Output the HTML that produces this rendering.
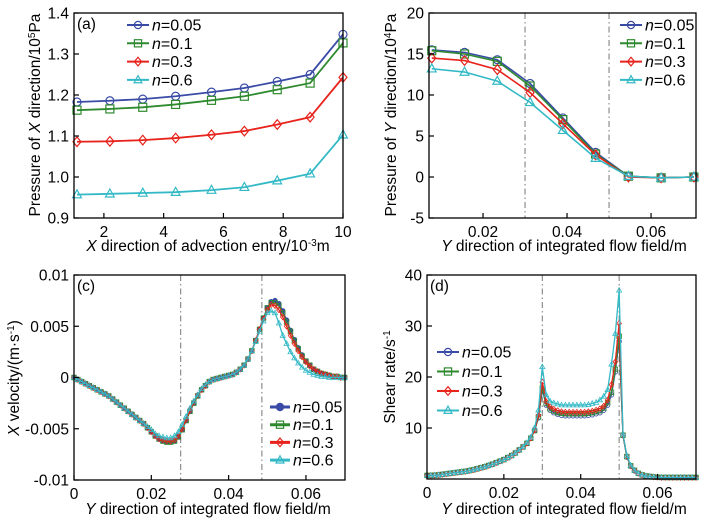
<!DOCTYPE html>
<html><head><meta charset="utf-8">
<style>
html,body{margin:0;padding:0;background:#fff;}
svg{display:block;font-family:"Liberation Sans",Arial,sans-serif;}
</style></head>
<body>
<svg id="fig" width="710" height="523" viewBox="0 0 710 523" xmlns="http://www.w3.org/2000/svg"></svg>
<script>
// ---------- data: panel (a) ----------
const aX = [1.1, 2.2, 3.3, 4.4, 5.6, 6.7, 7.8, 8.9, 10];
const aN005 = [1.183, 1.186, 1.19, 1.197, 1.207, 1.217, 1.233, 1.25, 1.348];
const aN01  = [1.163, 1.166, 1.17, 1.177, 1.187, 1.197, 1.213, 1.229, 1.327];
const aN03  = [1.086, 1.087, 1.09, 1.095, 1.103, 1.112, 1.128, 1.146, 1.243];
const aN06  = [0.957, 0.959, 0.961, 0.963, 0.968, 0.975, 0.991, 1.008, 1.103];
const aYTicks = [0.9, 1.0, 1.1, 1.2, 1.3, 1.4];
const aYTickLabels = ["0.9", "1.0", "1.1", "1.2", "1.3", "1.4"];
const aXTicks = [2, 4, 6, 8, 10];
const aXTickLabels = ["2", "4", "6", "8", "10"];

// ---------- data: panel (b) ----------
const bX = [0.0078, 0.0156, 0.0234, 0.0312, 0.039, 0.0468, 0.0546, 0.0624, 0.0702];
const bN005 = [15.5, 15.2, 14.3, 11.4, 7.2, 3.0, 0.1, -0.1, 0];
const bN01  = [15.4, 15.0, 14.1, 11.1, 7.0, 2.8, 0.1, -0.1, 0];
const bN03  = [14.5, 14.2, 13.1, 10.3, 6.5, 2.7, 0.0, -0.1, 0];
const bN06  = [13.2, 12.8, 11.7, 9.1, 5.7, 2.3, 0.1, -0.1, 0];
const bYTicks = [-5, 0, 5, 10, 15, 20];
const bYTickLabels = ["-5", "0", "5", "10", "15", "20"];
const bXTicks = [0.02, 0.04, 0.06];
const bXTickLabels = ["0.02", "0.04", "0.06"];

// ---------- data: panels (c) and (d) share x grid ----------
const cdX = [0,0.001,0.002,0.003,0.004,0.005,0.006,0.007,0.008,0.009,
0.010,0.011,0.012,0.013,0.014,0.015,0.016,0.017,0.018,0.019,
0.020,0.021,0.022,0.023,0.024,0.025,0.026,0.027,0.028,0.029,
0.030,0.031,0.032,0.033,0.034,0.035,0.036,0.037,0.038,0.039,
0.040,0.041,0.042,0.043,0.044,0.045,0.046,0.047,0.048,0.049,
0.050,0.051,0.052,0.053,0.054,0.055,0.056,0.057,0.058,0.059,
0.060,0.061,0.062,0.063,0.064,0.065,0.066,0.067,0.068,0.069,0.070];

// panel (c) values in 1e-3 m/s
const cN005 = [0,-0.2,-0.4,-0.6,-0.8,-1.0,-1.2,-1.4,-1.6,-1.8,
-2.1,-2.4,-2.7,-3.0,-3.3,-3.6,-3.9,-4.2,-4.5,-4.9,
-5.3,-5.7,-6.0,-6.2,-6.3,-6.3,-6.2,-5.8,-5.1,-4.2,
-3.3,-2.5,-1.8,-1.2,-0.8,-0.4,-0.2,-0.1,0,0.1,
0.2,0.3,0.5,0.8,1.2,1.8,2.6,3.6,4.7,5.8,
6.8,7.4,7.5,7.2,6.5,5.6,4.6,3.7,2.9,2.2,
1.6,1.2,0.8,0.6,0.4,0.3,0.2,0.1,0.1,0,0];
const cN01 = [0,-0.2,-0.4,-0.6,-0.8,-1.0,-1.2,-1.4,-1.6,-1.8,
-2.1,-2.4,-2.7,-3.0,-3.3,-3.6,-3.9,-4.2,-4.5,-4.9,
-5.3,-5.7,-6.0,-6.2,-6.3,-6.3,-6.2,-5.8,-5.1,-4.2,
-3.3,-2.5,-1.8,-1.2,-0.8,-0.4,-0.2,-0.1,0,0.1,
0.2,0.3,0.5,0.8,1.2,1.8,2.6,3.6,4.7,5.8,
6.8,7.3,7.3,7.0,6.3,5.4,4.5,3.6,2.8,2.1,
1.6,1.2,0.8,0.6,0.4,0.3,0.2,0.1,0.1,0,0];
const cN03 = [0,-0.2,-0.4,-0.6,-0.8,-1.0,-1.2,-1.4,-1.6,-1.8,
-2.1,-2.4,-2.7,-3.0,-3.3,-3.6,-3.9,-4.2,-4.5,-4.9,
-5.3,-5.7,-6.0,-6.1,-6.2,-6.2,-6.1,-5.7,-5.0,-4.1,
-3.2,-2.4,-1.7,-1.2,-0.8,-0.4,-0.2,-0.1,0,0.1,
0.2,0.3,0.5,0.8,1.2,1.8,2.6,3.6,4.7,5.7,
6.6,7.1,7.0,6.6,5.9,5.0,4.1,3.3,2.6,2.0,
1.5,1.1,0.8,0.6,0.4,0.3,0.2,0.1,0.1,0,0];
const cN06 = [0,-0.2,-0.4,-0.6,-0.8,-1.0,-1.2,-1.4,-1.6,-1.8,
-2.1,-2.4,-2.7,-3.0,-3.3,-3.6,-3.9,-4.2,-4.5,-4.8,
-5.1,-5.5,-5.7,-5.8,-5.9,-5.9,-5.7,-5.3,-4.6,-3.8,
-3.0,-2.3,-1.7,-1.1,-0.7,-0.4,-0.2,-0.1,0,0.1,
0.2,0.3,0.5,0.8,1.2,1.8,2.6,3.5,4.5,5.5,
6.3,6.5,6.3,5.3,4.1,3.3,2.5,1.9,1.4,1.0,
0.7,0.5,0.3,0.2,0.1,0.1,0,0,0,0,0];
const cYTicks = [-10, -5, 0, 5, 10];
const cYTickLabels = ["-0.01", "-0.005", "0", "0.005", "0.01"];
const cXTicks = [0, 0.02, 0.04, 0.06];
const cXTickLabels = ["0", "0.02", "0.04", "0.06"];

// panel (d) values in 1/s
const dN005 = [0.7,0.7,0.75,0.8,0.9,1.0,1.1,1.2,1.3,1.4,
1.5,1.65,1.8,2.0,2.2,2.4,2.65,2.9,3.2,3.5,
3.8,4.2,4.6,5.1,5.7,6.3,7.0,8.0,9.5,12.0,
17.5,14.5,13.5,13.0,12.7,12.5,12.4,12.4,12.4,12.4,
12.4,12.4,12.5,12.6,12.8,13.0,13.5,14.5,16.5,21.0,
27.0,8.5,4.3,2.5,1.6,1.1,0.8,0.6,0.5,0.4,
0.35,0.3,0.3,0.3,0.3,0.3,0.3,0.3,0.3,0.3,0.3];
const dN01 = [0.7,0.7,0.75,0.8,0.9,1.0,1.1,1.2,1.3,1.4,
1.5,1.65,1.8,2.0,2.2,2.4,2.65,2.9,3.2,3.5,
3.8,4.2,4.6,5.1,5.7,6.3,7.0,8.0,9.5,12.2,
17.8,14.8,13.8,13.3,13.0,12.9,12.8,12.8,12.8,12.8,
12.8,12.8,12.9,13.0,13.2,13.4,13.9,15.0,17.0,21.5,
28.0,8.6,4.4,2.6,1.7,1.1,0.8,0.6,0.5,0.4,
0.35,0.3,0.3,0.3,0.3,0.3,0.3,0.3,0.3,0.3,0.3];
const dN03 = [0.7,0.7,0.75,0.8,0.9,1.0,1.1,1.2,1.3,1.4,
1.5,1.65,1.8,2.0,2.2,2.4,2.65,2.9,3.2,3.5,
3.8,4.2,4.6,5.1,5.7,6.3,7.0,8.0,9.6,12.5,
19.0,15.2,14.2,13.7,13.4,13.2,13.1,13.1,13.1,13.1,
13.1,13.1,13.2,13.3,13.5,13.8,14.3,15.5,18.5,23.0,
30.5,8.7,4.5,2.6,1.7,1.1,0.8,0.6,0.5,0.4,
0.35,0.3,0.3,0.3,0.3,0.3,0.3,0.3,0.3,0.3,0.3];
const dN06 = [0.7,0.7,0.75,0.8,0.9,1.0,1.1,1.2,1.3,1.4,
1.5,1.65,1.8,2.0,2.2,2.4,2.65,2.9,3.2,3.5,
3.8,4.2,4.6,5.1,5.7,6.3,7.1,8.2,10.0,13.5,
22.0,16.5,15.3,14.9,14.7,14.5,14.5,14.5,14.5,14.5,
14.5,14.5,14.6,14.8,15.0,15.5,16.2,17.5,22.5,28.5,
37.0,8.8,4.6,2.7,1.7,1.1,0.8,0.6,0.5,0.4,
0.35,0.3,0.3,0.3,0.3,0.3,0.3,0.3,0.3,0.3,0.3];
const dYTicks = [10, 20, 30, 40];
const dYTickLabels = ["10", "20", "30", "40"];
const dXTicks = [0, 0.02, 0.04, 0.06];
const dXTickLabels = ["0", "0.02", "0.04", "0.06"];

const seriesLabels = ["0.05", "0.1", "0.3", "0.6"];

// ---------- rendering ----------
const NS = "http://www.w3.org/2000/svg";
const fig = document.getElementById("fig");
const COLORS = ["#3a4ba6", "#2f8a2f", "#e8231c", "#33b9c6"];
const MARKS = ["circle", "square", "diamond", "triangle"];
const FS = 15.5;

function mk(tag, attrs, parent) {
  const e = document.createElementNS(NS, tag);
  for (const k in attrs) e.setAttribute(k, attrs[k]);
  (parent || fig).appendChild(e);
  return e;
}

function marker(g, type, x, y, color, r, filled, sw) {
  let e;
  const fill = filled ? color : "none";
  if (type === "circle") e = mk("circle", {cx: x, cy: y, r: r, fill: fill, stroke: color, "stroke-width": sw}, g);
  else if (type === "square") e = mk("rect", {x: x - r, y: y - r, width: 2 * r, height: 2 * r, fill: fill, stroke: color, "stroke-width": sw}, g);
  else if (type === "diamond") e = mk("polygon", {points: `${x},${y - r * 1.2} ${x + r},${y} ${x},${y + r * 1.2} ${x - r},${y}`, fill: fill, stroke: color, "stroke-width": sw}, g);
  else e = mk("polygon", {points: `${x},${y - r * 1.2} ${x + r * 1.1},${y + r * 0.8} ${x - r * 1.1},${y + r * 0.8}`, fill: fill, stroke: color, "stroke-width": sw}, g);
  
  
}

function panel(cfg) {
  const g = mk("g", {});
  
  
  const {L, R, T, B} = cfg.box;
  const sx = v => L + (v - cfg.xmin) / (cfg.xmax - cfg.xmin) * (R - L);
  const sy = v => B - (v - cfg.ymin) / (cfg.ymax - cfg.ymin) * (B - T);
  const msw = cfg.msw || 1.2;

  (cfg.guides || []).forEach(gx => {
    const l = mk("line", {x1: sx(gx), x2: sx(gx), y1: T, y2: B, stroke: "#777", "stroke-width": 1, "stroke-dasharray": "6,3,1.5,3"}, g);
    
    
  });

  cfg.series.forEach((s, i) => {
    const sg = mk("g", {}, g);
    
    
    const pts = cfg.x.map((xv, j) => sx(xv).toFixed(2) + "," + sy(s[j]).toFixed(2)).join(" ");
    const pl = mk("polyline", {points: pts, fill: "none", stroke: COLORS[i], "stroke-width": cfg.lw || 1.5}, sg);
    
    
    cfg.x.forEach((xv, j) => marker(sg, MARKS[i], sx(xv), sy(s[j]), COLORS[i], cfg.mr, cfg.filledFirst && i === 0, msw));
  });

  const fr = mk("rect", {x: L, y: T, width: R - L, height: B - T, fill: "none", stroke: "#000", "stroke-width": 1.3}, g);
  
  

  cfg.yTicks.forEach((v, i) => {
    const y = sy(v);
    mk("line", {x1: L, x2: L + 5, y1: y, y2: y, stroke: "#000", "stroke-width": 1.2}, g);
    const t = mk("text", {x: L - 5, y: y + 5.5, "text-anchor": "end", "font-size": FS, fill: "#000"}, g);
    t.textContent = cfg.yLabels[i];
    
    
  });
  cfg.xTicks.forEach((v, i) => {
    const x = sx(v);
    mk("line", {x1: x, x2: x, y1: B, y2: B - 5, stroke: "#000", "stroke-width": 1.2}, g);
    const t = mk("text", {x: x, y: B + 19, "text-anchor": "middle", "font-size": FS, fill: "#000"}, g);
    t.textContent = cfg.xLabels[i];
    
    
  });

  const xt = mk("text", {x: cfg.xTitlePos[0], y: cfg.xTitlePos[1], "text-anchor": "middle", "font-size": FS, fill: "#000"}, g);
  xt.innerHTML = cfg.xTitle;
  
  
  const yt = mk("text", {x: 0, y: 0, "text-anchor": "middle", "font-size": FS, fill: "#000", transform: `translate(${cfg.yTitlePos[0]},${cfg.yTitlePos[1]}) rotate(-90)`}, g);
  yt.innerHTML = cfg.yTitle;
  
  

  if (cfg.letter) {
    const pl = mk("text", {x: L + 3, y: T + 16, "font-size": FS, fill: "#000"}, g);
    pl.textContent = cfg.letter;
    
    
  }

  const lg = mk("g", {}, g);
  
  
  const [lx, ly, lw, gap] = cfg.legend;
  seriesLabels.forEach((lab, i) => {
    const y = ly + i * gap;
    const eg = mk("g", {}, lg);
    
    
    mk("line", {x1: lx, x2: lx + lw, y1: y, y2: y, stroke: COLORS[i], "stroke-width": cfg.legendLw || 2}, eg);
    marker(eg, MARKS[i], lx + lw / 2, y, COLORS[i], 3.6, cfg.filledFirst && i === 0, 1.2);
    const t = mk("text", {x: lx + lw + 3, y: y + 5.5, "font-size": 16, fill: "#000"}, eg);
    t.innerHTML = '<tspan font-style="italic">n</tspan>=' + lab;
  });
}

panel({name: "panel-a", letter: "(a)", box: {L: 74, R: 343, T: 13, B: 218},
  xmin: 1, xmax: 10, ymin: 0.9, ymax: 1.4, x: aX, series: [aN005, aN01, aN03, aN06],
  yTicks: aYTicks, yLabels: aYTickLabels, xTicks: aXTicks, xLabels: aXTickLabels, mr: 4, lw: 1.8,
  xTitle: '<tspan font-style="italic">X</tspan> direction of advection entry/10<tspan dy="-5" font-size="10">-3</tspan><tspan dy="5">m</tspan>',
  xTitlePos: [208, 251],
  yTitle: 'Pressure of <tspan font-style="italic">X</tspan> direction/10<tspan dy="-5" font-size="10">5</tspan><tspan dy="5">Pa</tspan>',
  yTitlePos: [40, 115], legend: [127, 25, 22, 18.3]});

panel({name: "panel-b", letter: "", box: {L: 429, R: 696, T: 13, B: 218},
  xmin: 0.00714, xmax: 0.0707, ymin: -5, ymax: 20, x: bX, series: [bN005, bN01, bN03, bN06],
  yTicks: bYTicks, yLabels: bYTickLabels, xTicks: bXTicks, xLabels: bXTickLabels, mr: 4, lw: 1.6,
  guides: [0.03, 0.05],
  xTitle: '<tspan font-style="italic">Y</tspan> direction of integrated flow field/m',
  xTitlePos: [564, 251],
  yTitle: 'Pressure of <tspan font-style="italic">Y</tspan> direction/10<tspan dy="-5" font-size="10">4</tspan><tspan dy="5">Pa</tspan>',
  yTitlePos: [396, 115], legend: [620, 25, 22, 18.3]});

panel({name: "panel-c", letter: "(c)", box: {L: 74, R: 345, T: 275, B: 480},
  xmin: 0, xmax: 0.0701, ymin: -10, ymax: 10, x: cdX, series: [cN005, cN01, cN03, cN06],
  yTicks: cYTicks, yLabels: cYTickLabels, xTicks: cXTicks, xLabels: cXTickLabels, mr: 2.3, lw: 1.3, msw: 0.8,
  guides: [0.0276, 0.0486], filledFirst: true,
  xTitle: '<tspan font-style="italic">Y</tspan> direction of integrated flow field/m',
  xTitlePos: [208, 514],
  yTitle: '<tspan font-style="italic">X</tspan> velocity/(m·s<tspan dy="-5" font-size="10">-1</tspan><tspan dy="5">)</tspan>',
  yTitlePos: [19, 378], legend: [270, 407, 20, 17.7], legendLw: 3});

panel({name: "panel-d", letter: "(d)", box: {L: 427, R: 696, T: 275, B: 479},
  xmin: 0, xmax: 0.07, ymin: 0, ymax: 40, x: cdX, series: [dN005, dN01, dN03, dN06],
  yTicks: dYTicks, yLabels: dYTickLabels, xTicks: dXTicks, xLabels: dXTickLabels, mr: 2.3, lw: 1.3, msw: 0.8,
  guides: [0.03, 0.05],
  xTitle: '<tspan font-style="italic">Y</tspan> direction of integrated flow field/m',
  xTitlePos: [564, 514],
  yTitle: 'Shear rate/s<tspan dy="-5" font-size="10">-1</tspan>',
  yTitlePos: [395, 377], legend: [437, 352, 22, 19.5]});
</script>
</body></html>
